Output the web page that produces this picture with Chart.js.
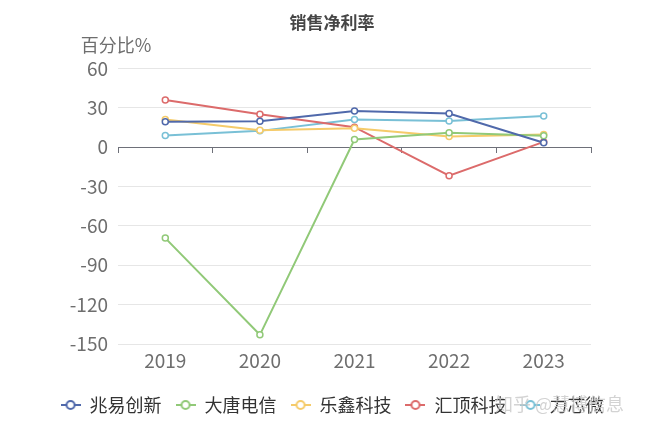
<!DOCTYPE html>
<html lang="zh">
<head>
<meta charset="UTF-8">
<title>销售净利率</title>
<script src="https://cdn.jsdelivr.net/npm/chart.js"></script>
<style>
  html, body { margin: 0; padding: 0; background: #fff; }
  .chartContainer { width: 648px; height: 432px; }
</style>
</head>
<body>
<div class="chartContainer">
  <canvas id="Chart"></canvas>
</div>
<script>
// data
const years = ["2019", "2020", "2021", "2022", "2023"];
const companies = ["兆易创新", "大唐电信", "乐鑫科技", "汇顶科技", "力芯微"];
const zhaoyi = [19.3, 19.8, 27.6, 25.6, 3.3];
const datang = [-69.3, -143, 5.8, 10.9, 8.6];
const lexin = [21, 12.9, 14.4, 8.1, 9.7];
const huiding = [36, 25.1, 15.2, -21.8, 4];
const lixinwei = [8.9, 12.4, 21, 20, 23.8];
const yTicks = [60, 30, 0, -30, -60, -90, -120, -150];

const colors = ["#5069ab", "#91c978", "#f5cb6a", "#dc6b6b", "#79c0d6"];
const fontFamily = "'Noto Sans CJK SC', 'Noto Sans', sans-serif";

// little line-circle-line icon for the legend
function makeIcon(color) {
  const c = document.createElement("canvas");
  c.width = 20;
  c.height = 12;
  const g = c.getContext("2d");
  g.strokeStyle = color;
  g.lineWidth = 2;
  g.beginPath();
  g.moveTo(0, 6); g.lineTo(6, 6);
  g.moveTo(14, 6); g.lineTo(20, 6);
  g.stroke();
  g.beginPath();
  g.arc(10, 6, 4, 0, Math.PI * 2);
  g.fillStyle = "#fff";
  g.fill();
  g.stroke();
  return c;
}

const seriesValues = [zhaoyi, datang, lexin, huiding, lixinwei];
const datasets = companies.map((name, i) => ({
  label: name,
  data: seriesValues[i],
  borderColor: colors[i],
  backgroundColor: colors[i],
  borderWidth: 2,
  pointRadius: 3,
  pointBorderWidth: 1.5,
  pointBackgroundColor: "#fff",
  pointBorderColor: colors[i],
  tension: 0,
  fill: false
}));

// y axis name and watermark drawn as plain text
const extraText = {
  id: "extraText",
  afterDraw(chart) {
    const ctx = chart.ctx;
    const area = chart.chartArea;
    ctx.save();
    ctx.font = "18px " + fontFamily;
    ctx.fillStyle = "#6e6e6e";
    ctx.textAlign = "center";
    ctx.textBaseline = "middle";
    ctx.fillText("百分比%", area.left - 2, area.top - 23);
    ctx.fillStyle = "rgba(200,200,200,0.8)";
    ctx.textAlign = "left";
    ctx.fillText("知乎 @慧博信息", 495, 404);
    ctx.restore();
  }
};

const ctx = document.getElementById("Chart").getContext("2d");
new Chart(ctx, {
  type: "line",
  data: { labels: years, datasets: datasets },
  options: {
    responsive: true,
    maintainAspectRatio: false,
    animation: false,
    layout: { padding: { left: 16, right: 0, top: 0, bottom: 8 } },
    scales: {
      x: {
        type: "category",
        offset: true,
        border: { display: false },
        grid: { display: false, drawTicks: false },
        ticks: { color: "#6e6e6e", padding: 5, font: { size: 19, family: fontFamily } },
        afterFit(scale) { scale.height = 38; }
      },
      x2: {
        type: "category",
        labels: years,
        position: { y: 0 },
        offset: true,
        border: { display: true, color: "#6e7079", width: 1 },
        grid: { offset: true, drawOnChartArea: false, drawTicks: true, tickLength: 5, color: "#6e7079" },
        ticks: { display: false }
      },
      y: {
        min: -150,
        max: 60,
        border: { display: false },
        grid: {
          color: (c) => (c.tick && c.tick.value === 0 ? "#6e7079" : "#e6e6e6"),
          drawTicks: false
        },
        afterBuildTicks(scale) { scale.ticks = yTicks.map((v) => ({ value: v })); },
        ticks: { color: "#6e6e6e", padding: 10, font: { size: 19, family: fontFamily } },
        afterFit(scale) { scale.width = 102; }
      },
      yRight: {
        position: "right",
        min: -150,
        max: 60,
        border: { display: false },
        grid: { drawOnChartArea: false, drawTicks: false },
        ticks: { display: false },
        afterFit(scale) { scale.width = 57; }
      }
    },
    plugins: {
      title: {
        display: true,
        text: "销售净利率",
        color: "#464646",
        font: { size: 17, weight: "bold", family: fontFamily },
        padding: { top: 12, bottom: 36 }
      },
      legend: {
        position: "bottom",
        labels: {
          usePointStyle: true,
          pointStyleWidth: 20,
          padding: 14,
          color: "#333",
          font: { size: 18, family: fontFamily },
          generateLabels(chart) {
            const items = Chart.defaults.plugins.legend.labels.generateLabels(chart);
            return items.map((it, i) => Object.assign(it, { pointStyle: makeIcon(colors[i]) }));
          }
        }
      },
      tooltip: { enabled: false }
    }
  },
  plugins: [extraText]
});
</script>
</body>
</html>
